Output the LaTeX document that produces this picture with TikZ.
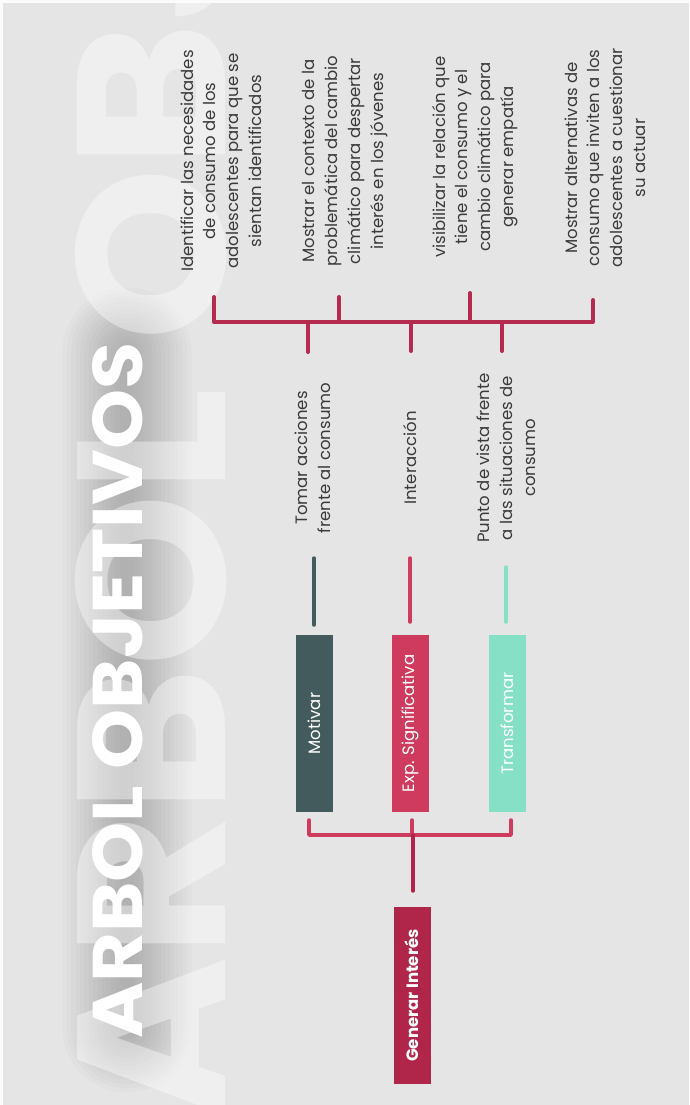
\documentclass[tikz,border=0pt]{standalone}
\usepackage{fontspec}
\setmainfont{Poppins}
\usepackage{graphicx}
\definecolor{bg}{HTML}{E5E5E5}
\definecolor{txt}{HTML}{3A3A3A}
\definecolor{crim}{HTML}{B52A4F}
\definecolor{crimdk}{HTML}{B0254A}
\definecolor{pinkr}{HTML}{CE3B5F}
\definecolor{slate}{HTML}{445B5D}
\definecolor{mint}{HTML}{85E0C5}
\begin{document}
\begin{tikzpicture}[x=1pt,y=-1pt,
  objtxt/.style={rotate=90,align=center,text=txt,inner sep=0pt,font=\fontsize{16.5}{22.8}\selectfont},
  boxn/.style={rotate=90,inner sep=0pt,minimum width=177pt,minimum height=37pt,text=white,font=\fontsize{16.5}{18}\selectfont},
  ubr/.style={draw=crim,line width=4pt,line cap=round,line join=round},
  lbr/.style={draw=pinkr,line width=3.5pt,line cap=round,line join=round},
  shortl/.style={line width=3.5pt,line cap=round}]
\useasboundingbox (0,0) rectangle (689,1105);
\fill[white!85!bg] (0,0) rectangle (689,1105);
\fill[bg] (3,3) rectangle (689,1105);
\begin{scope}
\clip (3,3) rectangle (689,1105);
% soft shadow behind title
\foreach \i in {1,...,14}{
  \pgfmathsetmacro\w{3+\i*4.4}
  \fill[black,opacity=0.015,rounded corners=\w pt] (127-\w,352-\w) rectangle (127+\w,1028+\w);
}
% watermark
\node[rotate=90,anchor=base west,inner sep=0pt,text=white,opacity=0.4] (wm) at (225,1120)
  {\resizebox{2010pt}{150pt}{\bfseries ARBOL OBJETIVOS}};
\end{scope}
% title
\node[rotate=90,anchor=base west,inner sep=0pt,text=white] (title) at (142,1039)
  {\resizebox{696pt}{50pt}{\bfseries ARBOL OBJETIVOS}};

% objectives
\node[objtxt] (o1) at (221,161) {Identificar las necesidades\\de consumo de los\\adolescentes para que se\\sientan identificados};
\node[objtxt] (o2) at (345,161) {Mostrar el contexto de la\\problemática del cambio\\climático para despertar\\interés en los jóvenes};
\node[objtxt] (o3) at (475,157) {visibilizar la relación que\\tiene el consumo y el\\cambio climático para\\generar empatía};
\node[objtxt] (o4) at (605,158) {Mostrar alternativas de\\consumo que inviten a los\\adolescentes a cuestionar\\su actuar};

% middle texts
\node[objtxt] (m1) at (313,458) {Tomar acciones\\frente al consumo};
\node[objtxt] (m2) at (410,458) {Interacción};
\node[objtxt] (m3) at (506,458) {Punto de vista frente\\a las situaciones de\\consumo};

% boxes
\node[boxn,fill=slate] (b1) at (314.5,723.5) {Motivar};
\node[boxn,fill=pinkr] (b2) at (410.5,723.5) {Exp. Significativa};
\node[boxn,fill=mint] (b3) at (507.5,723.5) {Transformar};
\node[boxn,fill=crimdk,font=\fontsize{16.5}{18}\selectfont\bfseries] (gi) at (412,995.5) {Generar Interés};

% upper bracket
\coordinate (hb) at (0,322);
\coordinate (t1) at (214,297);
\coordinate (t2) at (339,297);
\coordinate (t3) at (470,293);
\coordinate (t4) at (593,300);
\coordinate (d1) at (308,352);
\coordinate (d2) at (411,351);
\coordinate (d3) at (502,351);
\draw[ubr] (t1) -- (t1 |- hb) -- (t4 |- hb) -- (t4);
\draw[ubr] (t2) -- (t2 |- hb);
\draw[ubr] (t3) -- (t3 |- hb);
\draw[ubr] (d1 |- hb) -- (d1);
\draw[ubr] (d2 |- hb) -- (d2);
\draw[ubr] (d3 |- hb) -- (d3);

% short lines above boxes
\coordinate (s1) at (314,558);
\coordinate (s2) at (410,558);
\coordinate (s3) at (506,567);
\coordinate (e1) at (314,625);
\coordinate (e2) at (410,622);
\coordinate (e3) at (506,622);
\draw[shortl,slate] (s1) -- (e1);
\draw[shortl,pinkr] (s2) -- (e2);
\draw[shortl,mint] (s3) -- (e3);

% lower bracket
\coordinate (lb) at (0,835);
\coordinate (l1) at (309,820);
\coordinate (l2) at (412,820);
\coordinate (l3) at (511,820);
\coordinate (gt) at (413,891);
\draw[lbr] (l1) -- (l1 |- lb) -- (l3 |- lb) -- (l3);
\draw[lbr] (l2) -- (l2 |- lb);
\draw[lbr,draw=crimdk] (gt |- lb) -- (gt);
\end{tikzpicture}
\end{document}
